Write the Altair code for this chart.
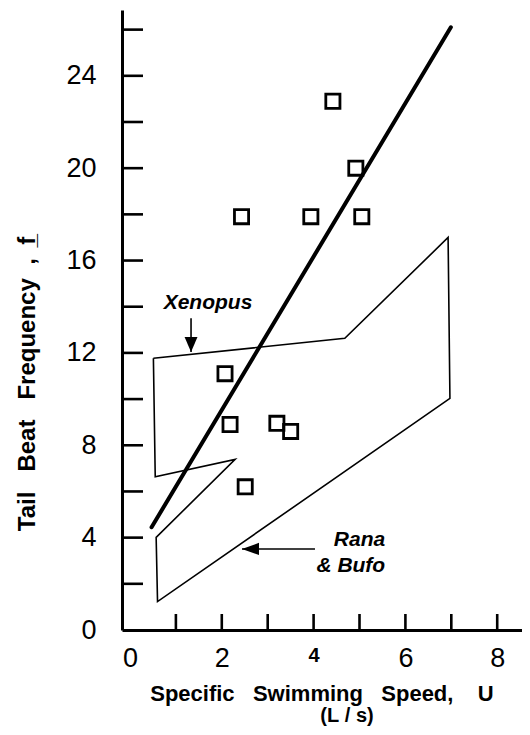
import altair as alt
import pandas as pd

# ---------------- data ----------------
sq_x = [4.42, 4.92, 2.43, 3.94, 5.05, 2.07, 2.18, 3.20, 3.50, 2.51]
sq_y = [22.9, 20.0, 17.9, 17.9, 17.9, 11.1, 8.9, 8.95, 8.6, 6.2]

reg_x = [0.47, 6.99]
reg_y = [4.45, 26.1]

poly_x = [0.51, 4.68, 6.93, 6.97, 0.60, 0.57, 2.29, 0.55, 0.51]
poly_y = [11.77, 12.63, 17.0, 10.03, 1.23, 4.01, 7.39, 6.64, 11.77]

xen_arrow_x = [1.33, 1.33]
xen_arrow_y = [13.5, 12.04]
rana_arrow_x = [4.03, 2.44]
rana_arrow_y = [3.51, 3.51]

label_text = ["Xenopus", "Rana", "& Bufo"]
label_x = [1.70, 5.56, 5.56]
label_y = [14.16, 3.90, 2.78]
label_align = ["center", "right", "right"]

x_label_vals = [0, 2, 4, 6, 8]
y_label_vals = [0, 4, 8, 12, 16, 20, 24]
x_tick_vals = [1, 2, 3, 4, 5, 6, 7, 8]
y_tick_vals = [2, 4, 6, 8, 10, 12, 14, 16, 18, 20, 22, 24, 26]

x_title = "Specific\u00a0\u00a0\u00a0Swimming\u00a0\u00a0\u00a0Speed,\u00a0\u00a0\u00a0\u00a0U"
x_title2 = "(L\u00a0/\u00a0s)"
y_title = "Tail\u00a0\u00a0\u00a0Beat\u00a0\u00a0\u00a0Frequency\u00a0\u00a0,\u00a0\u00a0f\u0332"

FONT = "Liberation Sans"

# ---------------- scales & axes ----------------
xs = alt.Scale(domain=[-0.174, 8.54], nice=False, zero=False)
ys = alt.Scale(domain=[0, 26.85], nice=False, zero=False)

x_axis = alt.Axis(
    values=x_label_vals, title=None, grid=False, ticks=False, tickSize=0,
    domainWidth=3, domainColor="black", labelFont=FONT,
    labelFontSize={"condition": {"test": "datum.value === 4", "value": 20}, "value": 27},
    labelFontWeight={"condition": {"test": "datum.value === 4", "value": "bold"}, "value": "normal"},
    labelColor="black", labelPadding=15, labelFlush=False, labelOverlap=False,
)
y_axis = alt.Axis(
    values=y_label_vals, title=None, grid=False, ticks=False, tickSize=0,
    domainWidth=3, domainColor="black", labelFont=FONT, labelFontSize=27,
    labelColor="black", labelPadding=26, labelOverlap=False,
)


def X(f):
    return alt.X(f, scale=xs, axis=x_axis)


def Y(f):
    return alt.Y(f, scale=ys, axis=y_axis)


sq_df = pd.DataFrame({"x": sq_x, "y": sq_y})
reg_df = pd.DataFrame({"x": reg_x, "y": reg_y})
poly_df = pd.DataFrame({"x": poly_x, "y": poly_y, "o": list(range(len(poly_x)))})
xen_df = pd.DataFrame({"x": xen_arrow_x, "y": xen_arrow_y, "o": [0, 1]})
rana_df = pd.DataFrame({"x": rana_arrow_x, "y": rana_arrow_y, "o": [0, 1]})
lab_df = pd.DataFrame({"t": label_text, "x": label_x, "y": label_y, "a": label_align})

squares = alt.Chart(sq_df).mark_point(
    shape="square", filled=False, size=200, strokeWidth=2.8, color="black", opacity=1
).encode(x=X("x:Q"), y=Y("y:Q"))

reg = alt.Chart(reg_df).mark_line(color="black", strokeWidth=4, strokeCap="round").encode(
    x=X("x:Q"), y=Y("y:Q")
)

poly = alt.Chart(poly_df).mark_line(color="black", strokeWidth=1.6, strokeJoin="miter").encode(
    x=X("x:Q"), y=Y("y:Q"), order="o:Q"
)

xen_line = alt.Chart(xen_df).mark_line(color="black", strokeWidth=1.6).encode(
    x=X("x:Q"), y=Y("y:Q"), order="o:Q"
)
xen_head = alt.Chart(xen_df.iloc[[1]]).mark_point(
    shape="M0,0L-0.43,-1L0.43,-1Z", filled=True, size=900, color="black", opacity=1, strokeWidth=0
).encode(x=X("x:Q"), y=Y("y:Q"))

rana_line = alt.Chart(rana_df).mark_line(color="black", strokeWidth=1.6).encode(
    x=X("x:Q"), y=Y("y:Q"), order="o:Q"
)
rana_head = alt.Chart(rana_df.iloc[[1]]).mark_point(
    shape="M0,0L1,-0.36L1,0.36Z", filled=True, size=1156, color="black", opacity=1, strokeWidth=0
).encode(x=X("x:Q"), y=Y("y:Q"))

labels_c = alt.Chart(lab_df[lab_df.a == "center"]).mark_text(
    font=FONT, fontSize=21, fontWeight="bold", fontStyle="italic", color="black",
    align="center", baseline="middle"
).encode(x=X("x:Q"), y=Y("y:Q"), text="t:N")
labels_r = alt.Chart(lab_df[lab_df.a == "right"]).mark_text(
    font=FONT, fontSize=21, fontWeight="bold", fontStyle="italic", color="black",
    align="right", baseline="middle"
).encode(x=X("x:Q"), y=Y("y:Q"), text="t:N")

yt_df = pd.DataFrame({"v": y_tick_vals})
xt_df = pd.DataFrame({"v": x_tick_vals})
y_ticks = alt.Chart(yt_df).mark_rule(color="black", strokeWidth=2.6).encode(
    y=Y("v:Q"), x=alt.value(0), x2=alt.value(21)
)
x_ticks = alt.Chart(xt_df).mark_rule(color="black", strokeWidth=2.6).encode(
    x=X("v:Q"), y=alt.value(620), y2=alt.value(604)
)

xt1 = alt.Chart(pd.DataFrame({"t": [x_title]})).mark_text(
    font=FONT, fontSize=22, fontWeight="bold", color="black", align="center", baseline="middle"
).encode(x=alt.value(200), y=alt.value(684), text="t:N")
xt2 = alt.Chart(pd.DataFrame({"t": [x_title2]})).mark_text(
    font=FONT, fontSize=20, fontWeight="bold", color="black", align="center", baseline="middle"
).encode(x=alt.value(225), y=alt.value(706), text="t:N")
ytt = alt.Chart(pd.DataFrame({"t": [y_title]})).mark_text(
    font=FONT, fontSize=24, fontWeight="bold", color="black", align="center",
    baseline="middle", angle=270
).encode(x=alt.value(-94), y=alt.value(374), text="t:N")

chart = alt.layer(
    squares, y_ticks, x_ticks, poly, reg, xen_line, xen_head, rana_line, rana_head,
    labels_c, labels_r, xt1, xt2, ytt
).properties(
    width=400, height=620,
    padding={"left": 114, "top": 2, "right": 0, "bottom": 97},
    autosize="none", background="white",
).configure_view(stroke=None)

chart.save("out.html", embed_options={"renderer": "svg", "actions": False})
